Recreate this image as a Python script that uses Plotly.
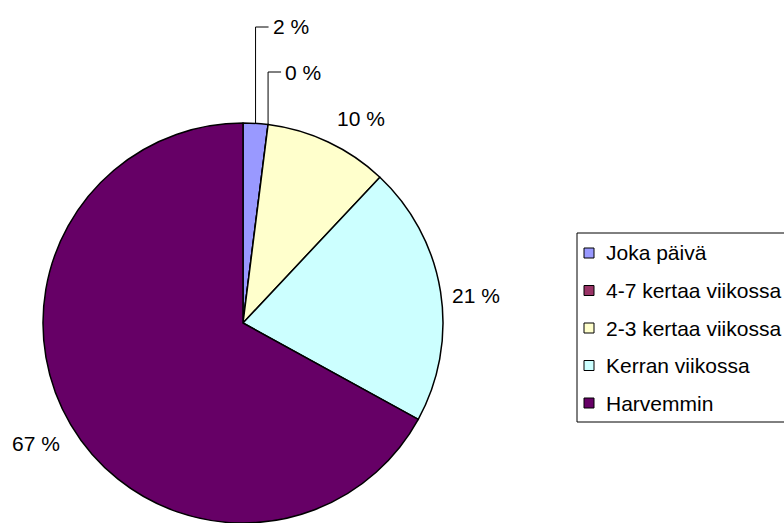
import math
import plotly.graph_objects as go

# Survey answers: how often, share of respondents (%)
categories = ["Joka päivä", "4-7 kertaa viikossa", "2-3 kertaa viikossa",
              "Kerran viikossa", "Harvemmin"]
shares = [2, 0, 10, 21, 67]
colors = ["#9999FF", "#993366", "#FFFFCC", "#CCFFFF", "#660066"]

W, H = 784, 523
FONT = "Liberation Sans, Arial, sans-serif"
FONT_SIZE = 21

# Pie geometry in pixels (measured from the top-left corner)
CX, CY, R = 243, 323, 200
LABEL_GAP = 36           # distance of outside labels beyond the rim
SMALL = 0.05             # slices below this share get an elbow leader line
LEADER_TOP = [27, 72]    # label heights for successive small slices
# small pixel adjustments of the outside labels, per slice
LABEL_NUDGE = [(0, 0), (0, 0), (18, 9), (0, 9), (-4, 0)]


def px(x):
    return x / W


def py(y):
    return 1 - y / H


fig = go.Figure(
    go.Pie(
        labels=categories,
        values=shares,
        sort=False,
        direction="clockwise",
        rotation=0,
        marker=dict(colors=colors, line=dict(color="black", width=1.5)),
        textinfo="none",
        hoverinfo="label+percent",
        showlegend=False,
        domain=dict(x=[px(CX - R), px(CX + R)], y=[py(CY + R), py(CY - R)]),
    )
)

annotations = []
shapes = []
total = sum(shares)
cum = 0.0
small_idx = 0
for i, (cat, v) in enumerate(zip(categories, shares)):
    mid = (cum + v / 2) / total * 2 * math.pi
    cum += v
    text = f"{v} %"
    if v / total < SMALL:
        ax = CX + R * math.sin(mid)
        ay = CY - R * math.cos(mid)
        top = LEADER_TOP[small_idx]
        small_idx += 1
        shapes.append(dict(type="path", xref="paper", yref="paper",
                           path=f"M {px(ax)} {py(ay)} L {px(ax)} {py(top)} L {px(ax + 13)} {py(top)}",
                           line=dict(color="black", width=1)))
        annotations.append(dict(x=px(ax + 15), y=py(top), xref="paper", yref="paper",
                                text=text, showarrow=False, xanchor="left", yanchor="middle",
                                font=dict(family=FONT, size=FONT_SIZE, color="black")))
    else:
        dx, dy = LABEL_NUDGE[i]
        lx = CX + (R + LABEL_GAP) * math.sin(mid) + dx
        ly = CY - (R + LABEL_GAP) * math.cos(mid) + dy
        annotations.append(dict(x=px(lx), y=py(ly), xref="paper", yref="paper",
                                text=text, showarrow=False, xanchor="center", yanchor="middle",
                                font=dict(family=FONT, size=FONT_SIZE, color="black")))

# Legend box (runs off the right edge)
LX0, LY0, LY1 = 577, 233, 422
ROW0, ROW_STEP = 253, 37.5
shapes.append(dict(type="rect", xref="paper", yref="paper",
                   x0=px(LX0), x1=px(W + 20), y0=py(LY1), y1=py(LY0),
                   line=dict(color="black", width=1), fillcolor="white", layer="below"))
for i, (cat, col) in enumerate(zip(categories, colors)):
    yc = ROW0 + i * ROW_STEP
    shapes.append(dict(type="rect", xref="paper", yref="paper",
                       x0=px(584), x1=px(594), y0=py(yc + 5), y1=py(yc - 5),
                       line=dict(color="black", width=1), fillcolor=col))
    annotations.append(dict(x=px(604), y=py(yc), xref="paper", yref="paper",
                            text=cat, showarrow=False, xanchor="left", yanchor="middle",
                            font=dict(family=FONT, size=FONT_SIZE, color="black")))

fig.update_layout(
    width=W, height=H,
    margin=dict(l=0, r=0, t=0, b=0),
    paper_bgcolor="white",
    plot_bgcolor="white",
    showlegend=False,
    shapes=shapes,
    annotations=annotations,
)

fig.write_html("out.html")
